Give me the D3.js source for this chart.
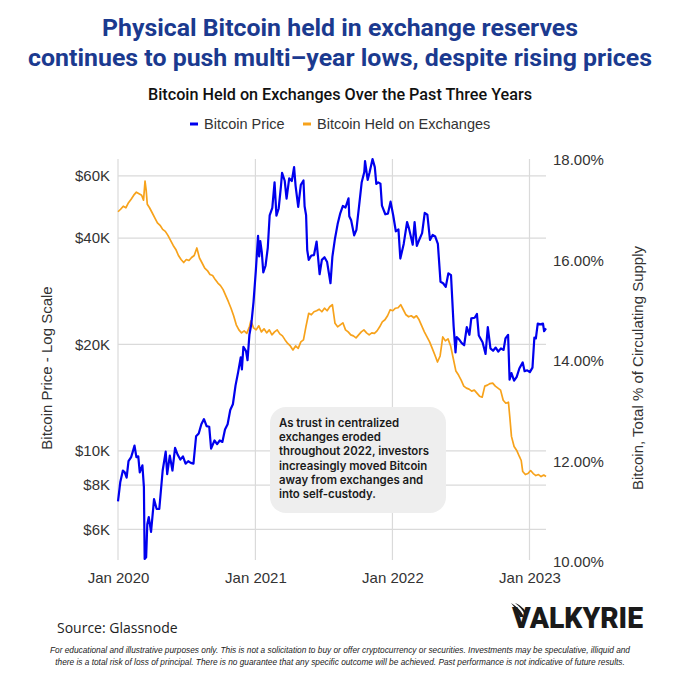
<!DOCTYPE html>
<html>
<head>
<meta charset="utf-8">
<script src="https://cdn.jsdelivr.net/npm/d3@7"></script>
<style>
  html, body { margin: 0; padding: 0; background: #fff; }
</style>
</head>
<body>
<script>
// bitcoin price, USD (weekly-ish reading of the chart)
const priceDates = [
  "2020-01-01","2020-01-07","2020-01-14","2020-01-19","2020-01-24","2020-01-29","2020-02-05","2020-02-10","2020-02-14","2020-02-19",
  "2020-02-24","2020-02-28","2020-03-06","2020-03-10","2020-03-12","2020-03-16","2020-03-19","2020-03-23","2020-03-29","2020-04-06",
  "2020-04-13","2020-04-20","2020-04-29","2020-05-07","2020-05-11","2020-05-18","2020-05-25","2020-06-01","2020-06-08","2020-06-15",
  "2020-06-22","2020-06-29","2020-07-06","2020-07-13","2020-07-20","2020-07-27","2020-08-03","2020-08-10","2020-08-17","2020-08-24",
  "2020-08-31","2020-09-05","2020-09-14","2020-09-21","2020-09-28","2020-10-05","2020-10-12","2020-10-19","2020-10-26","2020-11-02",
  "2020-11-09","2020-11-16","2020-11-23","2020-11-26","2020-11-30","2020-12-07","2020-12-11","2020-12-16","2020-12-21","2020-12-27",
  "2021-01-02","2021-01-08","2021-01-11","2021-01-14","2021-01-18","2021-01-22","2021-01-28","2021-02-03","2021-02-08","2021-02-15",
  "2021-02-21","2021-02-26","2021-03-04","2021-03-10","2021-03-13","2021-03-20","2021-03-25","2021-04-01","2021-04-08","2021-04-14",
  "2021-04-18","2021-04-25","2021-05-02","2021-05-09","2021-05-12","2021-05-16","2021-05-19","2021-05-23","2021-05-30","2021-06-06",
  "2021-06-13","2021-06-21","2021-06-27","2021-07-04","2021-07-11","2021-07-20","2021-07-25","2021-08-01","2021-08-08","2021-08-15",
  "2021-08-22","2021-08-29","2021-09-06","2021-09-08","2021-09-13","2021-09-21","2021-09-27","2021-10-04","2021-10-11","2021-10-18",
  "2021-10-20","2021-10-27","2021-11-01","2021-11-09","2021-11-15","2021-11-19","2021-11-24","2021-11-30","2021-12-04","2021-12-13",
  "2021-12-20","2021-12-27","2022-01-03","2022-01-10","2022-01-17","2022-01-22","2022-01-31","2022-02-09","2022-02-14","2022-02-24",
  "2022-03-01","2022-03-07","2022-03-14","2022-03-21","2022-03-28","2022-04-04","2022-04-11","2022-04-18","2022-04-25","2022-05-02",
  "2022-05-09","2022-05-16","2022-05-23","2022-05-30","2022-06-06","2022-06-13","2022-06-18","2022-06-21","2022-06-27","2022-07-04",
  "2022-07-11","2022-07-18","2022-07-25","2022-07-30","2022-08-08","2022-08-14","2022-08-19","2022-08-29","2022-09-06","2022-09-12",
  "2022-09-19","2022-09-26","2022-10-03","2022-10-10","2022-10-17","2022-10-24","2022-10-29","2022-11-05","2022-11-09","2022-11-14",
  "2022-11-21","2022-11-28","2022-12-05","2022-12-14","2022-12-19","2022-12-26","2023-01-02","2023-01-09","2023-01-14","2023-01-18",
  "2023-01-23","2023-01-30","2023-02-06","2023-02-09","2023-02-14"
];
const priceValues = [
  7200,8150,8800,8700,8400,9350,9600,10000,10350,9600,
  9650,8700,9100,7900,4950,5000,6200,6500,5900,7300,
  6850,6850,8800,9950,8600,9700,8800,10200,9750,9450,
  9650,9200,9350,9250,9200,11000,11200,11900,12300,11750,
  11700,10150,10700,10450,10700,10600,11500,11900,13050,13550,
  15300,16700,18400,17000,19700,19150,18050,21300,22800,26400,
  32200,40600,35500,39200,36500,32000,33400,37600,46400,48700,
  57500,46300,48500,56000,61200,58100,51700,59000,58000,63500,
  56200,49000,56600,58200,49200,46400,37000,34700,35700,35800,
  39100,31600,34700,35300,34200,29800,35400,39900,43800,47000,
  49300,48800,51800,46100,44900,40700,42200,49200,57400,61500,
  66000,58400,61300,66900,63500,56900,57500,57000,49400,46700,
  46900,50700,46400,41800,42300,35000,38500,44400,42600,38300,
  44400,38000,39700,41300,47100,46600,39500,40800,40400,38500,
  30100,29800,29100,31800,31400,22500,19000,21000,20700,20200,
  19900,22400,21300,23700,23800,24400,21200,20300,18800,22400,
  19500,19200,19600,19100,19500,19300,20800,21300,15900,16600,
  15800,16200,17100,17800,16800,16900,16700,17200,20900,20800,
  22900,22800,22900,21800,22200
];

// bitcoin held on exchanges, % of circulating supply
const heldDates = [
  "2020-01-01","2020-01-08","2020-01-15","2020-01-22","2020-01-29","2020-02-05","2020-02-12","2020-02-19","2020-02-26","2020-03-04",
  "2020-03-09","2020-03-13","2020-03-16","2020-03-19","2020-03-25","2020-04-01","2020-04-08","2020-04-15","2020-04-22","2020-04-29",
  "2020-05-06","2020-05-13","2020-05-20","2020-05-27","2020-06-03","2020-06-10","2020-06-17","2020-06-24","2020-07-01","2020-07-08",
  "2020-07-15","2020-07-22","2020-07-29","2020-08-05","2020-08-12","2020-08-19","2020-08-26","2020-09-02","2020-09-09","2020-09-16",
  "2020-09-23","2020-09-30","2020-10-07","2020-10-14","2020-10-21","2020-10-28","2020-11-04","2020-11-11","2020-11-18","2020-11-25",
  "2020-12-02","2020-12-09","2020-12-16","2020-12-20","2020-12-27","2021-01-03","2021-01-10","2021-01-17","2021-01-24","2021-01-31",
  "2021-02-07","2021-02-14","2021-02-21","2021-02-28","2021-03-07","2021-03-14","2021-03-21","2021-03-28","2021-04-04","2021-04-11",
  "2021-04-18","2021-04-25","2021-05-02","2021-05-09","2021-05-16","2021-05-23","2021-05-30","2021-06-06","2021-06-13","2021-06-20",
  "2021-06-27","2021-07-04","2021-07-11","2021-07-18","2021-07-25","2021-08-01","2021-08-08","2021-08-15","2021-08-22","2021-08-29",
  "2021-09-05","2021-09-12","2021-09-19","2021-09-26","2021-10-03","2021-10-10","2021-10-17","2021-10-24","2021-10-31","2021-11-07",
  "2021-11-14","2021-11-21","2021-11-28","2021-12-05","2021-12-12","2021-12-19","2021-12-26","2022-01-02","2022-01-09","2022-01-16",
  "2022-01-23","2022-01-30","2022-02-06","2022-02-13","2022-02-20","2022-02-27","2022-03-06","2022-03-13","2022-03-20","2022-03-27",
  "2022-04-03","2022-04-10","2022-04-17","2022-04-24","2022-05-01","2022-05-08","2022-05-15","2022-05-22","2022-05-29","2022-06-05",
  "2022-06-12","2022-06-19","2022-06-26","2022-07-03","2022-07-10","2022-07-17","2022-07-24","2022-07-31","2022-08-07","2022-08-14",
  "2022-08-21","2022-08-28","2022-09-04","2022-09-11","2022-09-18","2022-09-25","2022-10-02","2022-10-09","2022-10-16","2022-10-23",
  "2022-10-30","2022-11-06","2022-11-10","2022-11-14","2022-11-21","2022-11-28","2022-12-05","2022-12-10","2022-12-14","2022-12-21",
  "2022-12-28","2023-01-04","2023-01-11","2023-01-18","2023-01-25","2023-02-01","2023-02-08","2023-02-14"
];
const heldValues = [
  16.97,17.02,17.08,17.05,17.15,17.22,17.30,17.36,17.33,17.30,
  17.20,17.58,17.40,17.12,17.05,16.95,16.85,16.75,16.70,16.62,
  16.58,16.50,16.40,16.30,16.22,16.10,16.02,15.96,16.02,16.00,
  16.06,16.10,16.25,16.05,15.95,15.85,15.80,15.72,15.70,15.62,
  15.55,15.50,15.42,15.30,15.18,15.05,14.90,14.72,14.62,14.56,
  14.60,14.55,14.68,14.80,14.66,14.62,14.70,14.58,14.64,14.56,
  14.62,14.52,14.58,14.62,14.54,14.50,14.42,14.35,14.30,14.22,
  14.30,14.25,14.38,14.42,14.70,14.95,14.92,14.98,15.00,15.03,
  14.98,15.05,15.00,15.08,15.12,14.75,14.68,14.72,14.76,14.62,
  14.58,14.52,14.50,14.46,14.52,14.58,14.62,14.56,14.52,14.56,
  14.55,14.60,14.68,14.78,14.82,14.90,15.02,15.00,15.05,15.06,
  15.12,15.02,14.92,14.88,14.90,14.86,14.90,14.82,14.70,14.58,
  14.48,14.38,14.25,14.12,13.98,14.10,14.48,14.40,14.44,14.30,
  14.05,13.80,13.72,13.62,13.50,13.46,13.44,13.40,13.42,13.36,
  13.30,13.28,13.50,13.52,13.55,13.56,13.50,13.46,13.42,13.22,
  13.16,13.18,12.85,12.50,12.30,12.22,12.10,12.02,11.80,11.74,
  11.76,11.82,11.76,11.72,11.74,11.70,11.73,11.70
];

const priceTicks = [6000, 8000, 10000, 20000, 40000, 60000];
const priceTickLabels = ["$6K", "$8K", "$10K", "$20K", "$40K", "$60K"];
const heldTicks = [10, 12, 14, 16, 18];
const yearTicks = ["2020-01-01", "2021-01-01", "2022-01-01", "2023-01-01"];
const yearTickLabels = ["Jan 2020", "Jan 2021", "Jan 2022", "Jan 2023"];

const titleLines = [
  "Physical Bitcoin held in exchange reserves",
  "continues to push multi\u2013year lows, despite rising prices"
];
const noteLines = [
  "As trust in centralized",
  "exchanges eroded",
  "throughout 2022, investors",
  "increasingly moved Bitcoin",
  "away from exchanges and",
  "into self-custody."
];
const footerLines = [
  "For educational and illustrative purposes only. This is not a solicitation to buy or offer cryptocurrency or securities. Investments may be speculative, illiquid and",
  "there is a total risk of loss of principal. There is no guarantee that any specific outcome will be achieved. Past performance is not indicative of future results."
];

const W = 680, H = 680;
const plot = { left: 118, right: 546, top: 160, bottom: 562 };
const BLUE = "#0000ee", ORANGE = "#f7a21b", GRID = "#dadada";
const parse = d3.timeParse("%Y-%m-%d");

const price = priceDates.map((d, i) => ({ date: parse(d), value: priceValues[i] }));
const held = heldDates.map((d, i) => ({ date: parse(d), value: heldValues[i] }));

const svg = d3.select("body").append("svg")
  .attr("width", W).attr("height", H)
  .style("font-family", "'Liberation Sans', Arial, sans-serif");

const x = d3.scaleTime()
  .domain([parse("2020-01-01"), parse("2023-02-14")])
  .range([plot.left, plot.right]);
const yL = d3.scaleLog().domain([4850, 66500]).range([plot.bottom, plot.top]);
const yR = d3.scaleLinear().domain([10, 18]).range([plot.bottom, plot.top]);

// title block
svg.append("g").selectAll("text")
  .data(titleLines)
  .join("text")
  .attr("x", W / 2)
  .attr("y", (d, i) => 36 + i * 30)
  .attr("text-anchor", "middle")
  .attr("textLength", (d, i) => i == 0 ? 476 : 624)
  .attr("lengthAdjust", "spacingAndGlyphs")
  .style("font-family", "Roboto, 'Noto Sans', sans-serif")
  .style("font-weight", "bold")
  .style("font-size", "23px")
  .style("fill", "#1b3a8f")
  .text(d => d);

svg.append("text")
  .attr("x", W / 2).attr("y", 100)
  .attr("text-anchor", "middle")
  .attr("textLength", 384)
  .attr("lengthAdjust", "spacingAndGlyphs")
  .style("font-family", "Roboto, 'Open Sans', sans-serif")
  .style("font-weight", 500)
  .style("font-size", "16px")
  .style("fill", "#111")
  .text("Bitcoin Held on Exchanges Over the Past Three Years");

// legend
const legend = svg.append("g").attr("transform", "translate(0,124)");
const legendItems = [
  { label: "Bitcoin Price", color: BLUE, x: 190 },
  { label: "Bitcoin Held on Exchanges", color: ORANGE, x: 303 }
];
legend.selectAll("line")
  .data(legendItems)
  .join("line")
  .attr("x1", d => d.x).attr("x2", d => d.x + 8)
  .attr("y1", 0).attr("y2", 0)
  .attr("stroke", d => d.color)
  .attr("stroke-width", 3);
legend.selectAll("text")
  .data(legendItems)
  .join("text")
  .attr("x", d => d.x + 14)
  .attr("y", 5)
  .style("font-size", "14.5px")
  .style("fill", "#333")
  .text(d => d.label);

// grid
svg.append("g")
  .selectAll("line")
  .data(priceTicks)
  .join("line")
  .attr("x1", plot.left).attr("x2", plot.right)
  .attr("y1", d => yL(d)).attr("y2", d => yL(d))
  .attr("stroke", GRID).attr("stroke-width", 1.2);

svg.append("g")
  .selectAll("line")
  .data(yearTicks)
  .join("line")
  .attr("x1", d => x(parse(d))).attr("x2", d => x(parse(d)))
  .attr("y1", plot.top - 1).attr("y2", plot.bottom - 2)
  .attr("stroke", GRID).attr("stroke-width", 1.2);

// axes labels
const leftAxis = d3.axisLeft(yL)
  .tickValues(priceTicks)
  .tickFormat((d, i) => priceTickLabels[i])
  .tickSize(0).tickPadding(8);
svg.append("g")
  .attr("transform", `translate(${plot.left},0)`)
  .call(leftAxis)
  .call(g => g.select(".domain").remove())
  .selectAll("text")
  .style("font-family", "'Liberation Sans', Arial, sans-serif")
  .style("font-size", "15px")
  .style("fill", "#333");

const rightAxis = d3.axisRight(yR)
  .tickValues(heldTicks)
  .tickFormat(d => d3.format(".2f")(d) + "%")
  .tickSize(0).tickPadding(8);
svg.append("g")
  .attr("transform", `translate(${plot.right - 1},0)`)
  .call(rightAxis)
  .call(g => g.select(".domain").remove())
  .selectAll("text")
  .style("font-family", "'Liberation Sans', Arial, sans-serif")
  .style("font-size", "15px")
  .style("fill", "#333");

const bottomAxis = d3.axisBottom(x)
  .tickValues(yearTicks.map(parse))
  .tickFormat((d, i) => yearTickLabels[i])
  .tickSize(0).tickPadding(10);
svg.append("g")
  .attr("transform", `translate(0,${plot.bottom})`)
  .call(bottomAxis)
  .call(g => g.select(".domain").remove())
  .selectAll("text")
  .style("font-family", "'Liberation Sans', Arial, sans-serif")
  .style("font-size", "15px")
  .style("fill", "#333");

svg.append("text")
  .attr("transform", "translate(52,368) rotate(-90)")
  .attr("text-anchor", "middle")
  .style("font-size", "15px")
  .style("fill", "#333")
  .text("Bitcoin Price - Log Scale");

svg.append("text")
  .attr("transform", "translate(643,368) rotate(-90)")
  .attr("text-anchor", "middle")
  .style("font-size", "15px")
  .style("fill", "#333")
  .text("Bitcoin, Total % of Circulating Supply");

// series
svg.append("path")
  .datum(held)
  .attr("fill", "none")
  .attr("stroke", ORANGE)
  .attr("stroke-width", 1.7)
  .attr("stroke-linejoin", "round")
  .attr("d", d3.line().x(d => x(d.date)).y(d => yR(d.value)));

svg.append("path")
  .datum(price)
  .attr("fill", "none")
  .attr("stroke", BLUE)
  .attr("stroke-width", 2.2)
  .attr("stroke-linejoin", "round")
  .attr("d", d3.line().x(d => x(d.date)).y(d => yL(d.value)));

// annotation
const note = svg.append("g");
note.append("rect")
  .attr("x", 270).attr("y", 407)
  .attr("width", 176).attr("height", 106)
  .attr("rx", 16)
  .attr("fill", "#eeeeee");
note.selectAll("text")
  .data(noteLines)
  .join("text")
  .attr("x", 279)
  .attr("y", (d, i) => 427 + i * 14.2)
  .style("font-family", "Inter, 'Open Sans', sans-serif")
  .style("font-weight", 600)
  .style("font-size", "11.4px")
  .style("fill", "#1a1a1a")
  .text(d => d);

// source + logo
svg.append("text")
  .attr("x", 57).attr("y", 633)
  .style("font-family", "'Open Sans', 'Noto Sans', sans-serif")
  .style("font-size", "14px")
  .style("fill", "#222")
  .text("Source: Glassnode");

svg.append("path")
  .attr("d", "M511,603 C516,606 521,610 524,617 L520,617 C518,612 515,608 511,603 Z M515,603 C520,605 525,609 527,614 L525,615 C523,610 519,606 515,603 Z")
  .attr("fill", "#1a1a1a");
svg.append("text")
  .attr("x", 512).attr("y", 628)
  .attr("textLength", 131)
  .attr("lengthAdjust", "spacingAndGlyphs")
  .style("font-family", "Roboto, 'Liberation Sans', sans-serif")
  .style("font-weight", 900)
  .style("font-size", "30px")
  .style("fill", "#1a1a1a")
  .text("VALKYRIE");

// disclaimer
svg.append("g").selectAll("text")
  .data(footerLines)
  .join("text")
  .attr("x", W / 2)
  .attr("y", (d, i) => 653 + i * 11.5)
  .attr("text-anchor", "middle")
  .style("font-style", "italic")
  .style("font-size", "8.3px")
  .style("fill", "#222")
  .text(d => d);
</script>
</body>
</html>
